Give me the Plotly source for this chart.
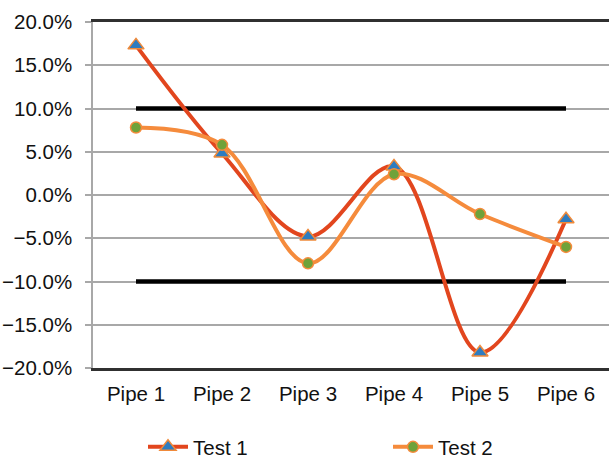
import plotly.graph_objects as go

categories = ["Pipe 1", "Pipe 2", "Pipe 3", "Pipe 4", "Pipe 5", "Pipe 6"]
test1 = [0.173, 0.048, -0.048, 0.033, -0.182, -0.028]
test2 = [0.078, 0.058, -0.079, 0.024, -0.022, -0.060]
upper_limit = [0.10, 0.10, 0.10, 0.10, 0.10, 0.10]
lower_limit = [-0.10, -0.10, -0.10, -0.10, -0.10, -0.10]
y_ticks = [-0.20, -0.15, -0.10, -0.05, 0.0, 0.05, 0.10, 0.15, 0.20]

FONT = "Liberation Sans, Arial, sans-serif"
FS = 20.5

fig = go.Figure()

fig.add_trace(go.Scatter(
    x=categories, y=upper_limit, mode="lines",
    line=dict(color="#000000", width=4.5), showlegend=False, hoverinfo="skip"))
fig.add_trace(go.Scatter(
    x=categories, y=lower_limit, mode="lines",
    line=dict(color="#000000", width=4.5), showlegend=False, hoverinfo="skip"))

fig.add_trace(go.Scatter(
    x=categories, y=test1, mode="lines+markers", name="Test 1",
    legend="legend",
    line=dict(color="#E2461E", width=4, shape="spline", smoothing=1.0),
    marker=dict(symbol="triangle-up", size=14, color="#2E7CC0",
                line=dict(color="#F08A3A", width=1.5))))
fig.add_trace(go.Scatter(
    x=categories, y=test2, mode="lines+markers", name="Test 2",
    legend="legend2",
    line=dict(color="#F58B3C", width=4, shape="spline", smoothing=1.0),
    marker=dict(symbol="circle", size=11, color="#6FA23A",
                line=dict(color="#F58B3C", width=1.5))))

legend_common = dict(
    orientation="h", xref="container", yref="container",
    xanchor="left", yanchor="middle",
    font=dict(family=FONT, size=FS, color="#111111"),
    itemwidth=40, bgcolor="rgba(0,0,0,0)",
)

fig.update_layout(
    width=609, height=458,
    margin=dict(l=93, r=0, t=22, b=90),
    paper_bgcolor="white", plot_bgcolor="white",
    font=dict(family=FONT, size=FS, color="#111111"),
    showlegend=True,
    legend=dict(x=143 / 609, y=1 - 447 / 458, **legend_common),
    legend2=dict(x=388 / 609, y=1 - 447 / 458, **legend_common),
)

fig.update_xaxes(
    type="category", range=[-0.5, 5.5],
    showgrid=False, showline=True, linecolor="#303030", linewidth=2.5,
    mirror=True, ticks="", tickfont=dict(size=FS), ticklabelstandoff=6,
    zeroline=False, fixedrange=True,
)
fig.update_yaxes(
    range=[-0.20, 0.20], tickvals=y_ticks, tickformat=".1%",
    showgrid=True, gridcolor="#a8a8a8", gridwidth=1.5,
    zeroline=True, zerolinecolor="#a8a8a8", zerolinewidth=1.5,
    showline=True, linecolor="#a8a8a8", linewidth=1.5,
    ticks="outside", ticklen=6, tickcolor="#a8a8a8", tickwidth=1.5,
    tickfont=dict(size=FS), ticklabelstandoff=9, fixedrange=True,
)

fig.write_html("out.html")
